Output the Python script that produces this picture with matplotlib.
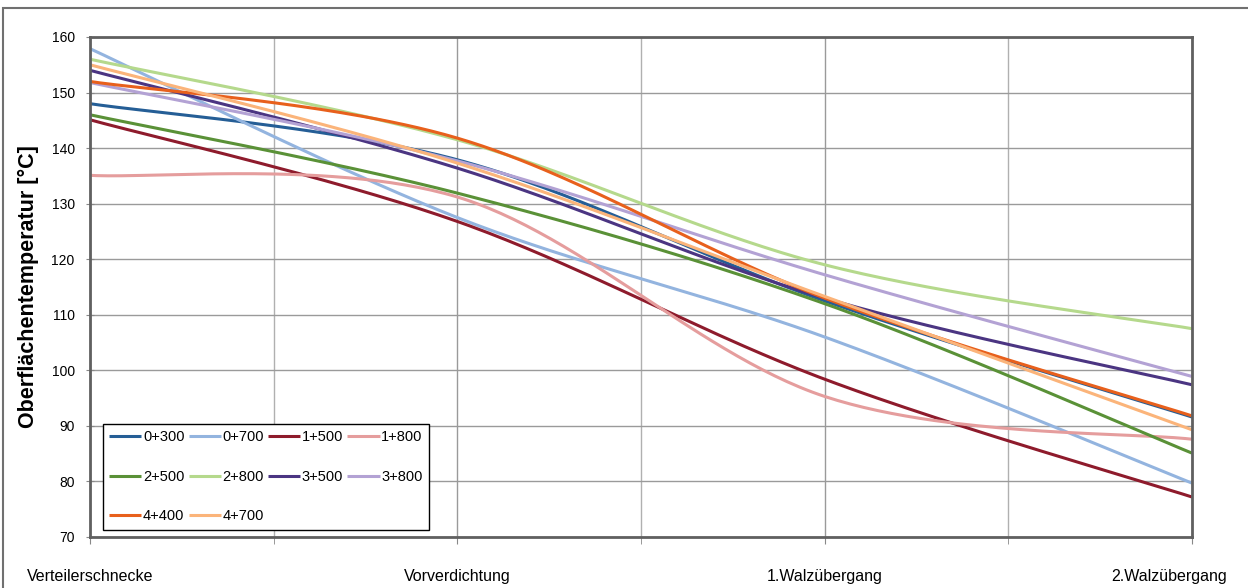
import numpy as np
import matplotlib
matplotlib.use("Agg")
import matplotlib.pyplot as plt
import matplotlib.transforms as mtransforms
from matplotlib.patches import Rectangle

plt.rcParams['font.family'] = ['Liberation Sans', 'DejaVu Sans']

# --- data ---
stations = ["Verteilerschnecke", "Vorverdichtung", "1.Walzübergang", "2.Walzübergang"]
series_names = ["0+300", "0+700", "1+500", "1+800", "2+500",
                "2+800", "3+500", "3+800", "4+400", "4+700"]
t_0300 = [148.0, 137.9, 112.5, 91.6]
t_0700 = [157.9, 127.5, 106.0, 79.7]
t_1500 = [145.1, 126.8, 98.4, 77.2]
t_1800 = [135.1, 131.2, 95.3, 87.6]
t_2500 = [146.0, 131.9, 112.0, 85.1]
t_2800 = [156.0, 141.5, 119.0, 107.5]
t_3500 = [154.0, 136.4, 113.0, 97.4]
t_3800 = [151.8, 137.7, 117.2, 98.9]
t_4400 = [152.0, 141.8, 113.0, 91.8]
t_4700 = [155.0, 137.3, 113.3, 89.3]
series = [t_0300, t_0700, t_1500, t_1800, t_2500,
          t_2800, t_3500, t_3800, t_4400, t_4700]
colors = ["#255E96", "#93B4DF", "#8E1B2C", "#E59D9D", "#5A9137",
          "#B5D98C", "#4B3582", "#B3A2D4", "#E8601C", "#FBB47A"]


def smooth(xs, ys, n=60):
    """Excel-like smoothed line: cubic Bezier through the points."""
    p = np.column_stack([xs, ys]).astype(float)
    p_ext = np.vstack([p[0], p, p[-1]])
    t = np.linspace(0, 1, n)[:, None]
    out = []
    for i in range(len(p) - 1):
        p0, p1, p2, p3 = p_ext[i], p_ext[i + 1], p_ext[i + 2], p_ext[i + 3]
        c1 = p1 + (p2 - p0) / 6
        c2 = p2 - (p3 - p1) / 6
        seg = ((1 - t) ** 3) * p1 + 3 * ((1 - t) ** 2) * t * c1 \
            + 3 * (1 - t) * t ** 2 * c2 + t ** 3 * p2
        out.append(seg if i == 0 else seg[1:])
    out = np.vstack(out)
    return out[:, 0], out[:, 1]


W, H = 1248, 588
fig = plt.figure(figsize=(W / 100, H / 100), dpi=100)
# outer frame (open to the right and bottom)
fig.patches.append(Rectangle((3 / W, -0.1), 1.1, 1 - 8 / H + 0.1, transform=fig.transFigure,
                             fill=False, edgecolor="#707070", linewidth=1.5))
ax = fig.add_axes([90 / W, 1 - 537 / H, 1102 / W, 500 / H])

x = np.arange(len(stations))
handles = []
for name, ys, c in zip(series_names, series, colors):
    sx, sy = smooth(x, ys)
    h, = ax.plot(sx, sy, color=c, linewidth=2.2, label=name, solid_capstyle='butt')
    handles.append(h)

ax.set_xlim(0, 3)
ax.set_ylim(70, 160)
ax.set_yticks(np.arange(70, 161, 10))
ax.set_xticks(x)
ax.set_xticks(np.arange(0.5, 3, 1), minor=True)
ax.set_xticklabels(stations, fontsize=11.5)
ax.tick_params(axis='x', which='both', length=5, pad=18, color="#888888")
ax.tick_params(axis='y', length=6, direction='inout', pad=8, labelsize=10, color="#888888")
ax.grid(True, which='major', color="#9A9A9A", linewidth=1)
ax.grid(True, which='minor', axis='x', color="#B0B0B0", linewidth=1)
ax.set_axisbelow(True)
for s in ax.spines.values():
    s.set_color("#606060")
    s.set_linewidth(2)

# last category label is pulled inward to stay inside the picture
last = ax.get_xticklabels()[-1]
last.set_transform(last.get_transform() + mtransforms.ScaledTranslation(-23 / 100, 0, fig.dpi_scale_trans))

ax.set_ylabel("Oberflächentemperatur [°C]", fontsize=15.5, fontweight='bold', labelpad=9)

order = [0, 4, 8, 1, 5, 9, 2, 6, 3, 7]
leg = ax.legend([handles[i] for i in order], [series_names[i] for i in order],
                ncol=4, loc='lower left', bbox_to_anchor=(0.005, 0.0),
                fontsize=10.5, frameon=True, fancybox=False, framealpha=1,
                handlelength=2.2, handletextpad=0.1, columnspacing=0.3,
                labelspacing=1.75, borderpad=0.45)
leg.get_frame().set_edgecolor("#000000")
leg.get_frame().set_linewidth(1)

fig.savefig("out.png", dpi=100)
